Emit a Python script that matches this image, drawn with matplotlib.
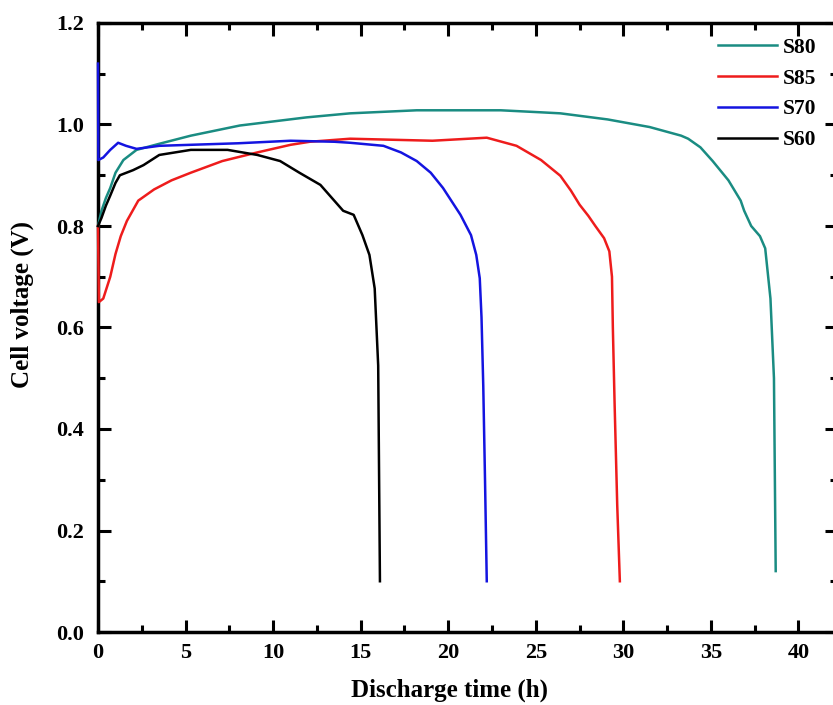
"""
放电曲线 - 电池电压随放电时间变化 (S80 / S85 / S70 / S60)
"""

import matplotlib
matplotlib.use("Agg")
import matplotlib.pyplot as plt
from matplotlib.ticker import MultipleLocator

# ===================== 数据 =====================
t_s80 = [0, 0.2, 0.45, 0.7, 1.0, 1.45, 2.2, 3.5, 5.3, 8.1, 11.9, 14.4, 18.2,
         23.0, 25.3, 26.4, 29.1, 31.5, 33.3, 33.7, 34.4, 35.1, 36.0, 36.7,
         36.9, 37.3, 37.8, 38.1, 38.3, 38.4, 38.6, 38.7]
v_s80 = [0.80, 0.83, 0.855, 0.875, 0.905, 0.93, 0.95, 0.962, 0.978, 0.998,
         1.014, 1.022, 1.028, 1.028, 1.024, 1.022, 1.01, 0.995, 0.978, 0.972,
         0.955, 0.928, 0.89, 0.85, 0.83, 0.80, 0.78, 0.756, 0.69, 0.657, 0.5,
         0.12]

t_s85 = [0, 0.05, 0.3, 0.7, 1.0, 1.3, 1.65, 2.3, 3.2, 4.2, 5.3, 7.1, 9.1,
         11.0, 12.1, 14.4, 19.1, 22.2, 23.9, 25.3, 26.4, 27.0, 27.5, 28.0,
         28.4, 28.9, 29.2, 29.35, 29.4, 29.5, 29.65, 29.8]
v_s85 = [0.80, 0.65, 0.657, 0.70, 0.745, 0.78, 0.81, 0.85, 0.872, 0.89,
         0.905, 0.928, 0.945, 0.96, 0.966, 0.972, 0.968, 0.974, 0.958, 0.93,
         0.899, 0.87, 0.842, 0.82, 0.80, 0.776, 0.75, 0.70, 0.60, 0.45, 0.25,
         0.10]

t_s70 = [0, 0.02, 0.3, 0.7, 1.15, 1.6, 2.2, 3.5, 5.3, 8.0, 11.0, 13.5, 14.4,
         16.3, 17.3, 18.2, 19.0, 19.7, 20.7, 21.3, 21.6, 21.8, 21.9, 22.0,
         22.1, 22.2]
v_s70 = [1.12, 0.93, 0.935, 0.95, 0.964, 0.958, 0.952, 0.958, 0.96, 0.963,
         0.968, 0.966, 0.964, 0.958, 0.945, 0.928, 0.905, 0.875, 0.822, 0.782,
         0.743, 0.697, 0.62, 0.485, 0.30, 0.10]

t_s60 = [0, 0.2, 0.45, 0.7, 1.0, 1.25, 2.0, 2.6, 3.5, 5.3, 7.4, 9.1, 10.4,
         11.5, 12.7, 14.0, 14.6, 15.1, 15.5, 15.8, 16.0, 16.1]
v_s60 = [0.80, 0.816, 0.84, 0.86, 0.885, 0.90, 0.91, 0.92, 0.94, 0.95, 0.95,
         0.94, 0.928, 0.905, 0.881, 0.83, 0.822, 0.782, 0.743, 0.677, 0.525,
         0.10]

# ===================== 样式 =====================
plt.rcParams["font.family"] = ["Liberation Serif", "DejaVu Serif"]
plt.rcParams["font.weight"] = "bold"

fig = plt.figure(figsize=(8.33, 7.05), dpi=100)
# 右侧边框被裁掉 -> 轴区域略微超出画布
ax = fig.add_axes([98 / 833, 73 / 705, 739 / 833, 609 / 705])

for t, v, c, name in [(t_s80, v_s80, "#1A8C82", "S80"),
                      (t_s85, v_s85, "#EE1C1C", "S85"),
                      (t_s70, v_s70, "#1414E0", "S70"),
                      (t_s60, v_s60, "black", "S60")]:
    ax.plot(t, v, color=c, linewidth=1.8, label=name, zorder=3, clip_on=False)

ax.set_xlim(0, 42.2)
ax.set_ylim(0, 1.2)
ax.xaxis.set_major_locator(MultipleLocator(5))
ax.xaxis.set_minor_locator(MultipleLocator(2.5))
ax.yaxis.set_major_locator(MultipleLocator(0.2))
ax.yaxis.set_minor_locator(MultipleLocator(0.1))
ax.yaxis.set_major_formatter(plt.FuncFormatter(lambda v, _: f"{v:.1f}"))

ax.tick_params(which="both", direction="in", top=True, right=True, width=2.2)
ax.tick_params(which="major", length=9, labelsize=16)
ax.tick_params(which="minor", length=5)
ax.tick_params(axis="x", pad=8)
ax.tick_params(axis="y", pad=10)
for sp in ax.spines.values():
    sp.set_linewidth(2.5)

ax.set_xlabel("Discharge time (h)", fontsize=18, fontweight="bold")
ax.set_ylabel("Cell voltage (V)", fontsize=18, fontweight="bold")
ax.xaxis.set_label_coords((450 - 98) / 739, -0.076)
ax.yaxis.set_label_coords(-(98 - 34) / 739, (632 - 305) / 609)

ax.legend(loc="upper right", bbox_to_anchor=(0.99, 0.997), frameon=False,
          fontsize=15.5, handlelength=2.7, handletextpad=0.3,
          labelspacing=0.5, borderaxespad=0.2)

plt.savefig("out.png", dpi=100)
plt.close()
